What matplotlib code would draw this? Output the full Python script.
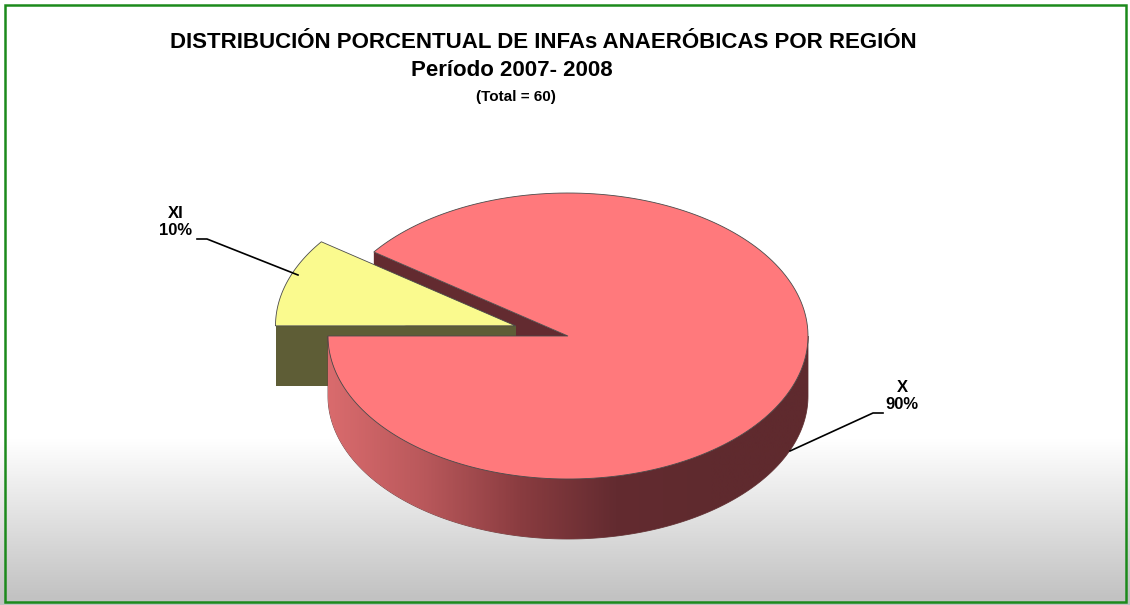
import numpy as np
import matplotlib
matplotlib.use("Agg")
import matplotlib.pyplot as plt
from matplotlib.patches import Polygon, Rectangle, PathPatch
from matplotlib.path import Path
from matplotlib.colors import LinearSegmentedColormap

# data
regions = ["X", "XI"]
percent = [90, 10]
total = 60
explode = [0.0, 0.23]

top_colors = ["#ff797c", "#fafa8e"]
cut_colors = ["#632b30", "#5e5d36"]

title = "DISTRIBUCIÓN PORCENTUAL DE INFAs ANAERÓBICAS POR REGIÓN"
subtitle = "Período 2007- 2008"

plt.rcParams["font.family"] = ["Liberation Sans", "DejaVu Sans"]

fig = plt.figure(figsize=(11.3, 6.05), dpi=100)
ax = fig.add_axes([0, 0, 1, 1])
ax.set_xlim(0, 1130)
ax.set_ylim(605, 0)
ax.axis("off")

# background: white with grey fade at the bottom
yy = np.linspace(0, 605, 200)
grad = np.repeat(np.clip((yy - 440) / 160, 0, 1)[:, None], 2, axis=1)
bg = LinearSegmentedColormap.from_list("bg", ["#ffffff", "#c2c2c2"])
ax.imshow(grad, extent=[0, 1130, 605, 0], cmap=bg, aspect="auto", zorder=0,
          interpolation="bilinear")
ax.add_patch(Rectangle((5, 5), 1121, 597, fill=False, ec="#1c8a1c", lw=1.8, zorder=10))

# 3d pie geometry (pixels)
cx, cy = 568, 336
a, b = 240, 143
depth = 60
start = 180.0


def pt(c, t, dz=0.0):
    r = np.radians(t)
    return (c[0] + a * np.cos(r), c[1] - b * np.sin(r) + dz)


def arc(c, t0, t1, dz=0.0, n=200):
    ts = np.linspace(t0, t1, n)
    return [pt(c, t, dz) for t in ts]


# X starts at 180 deg and runs through the front, XI fills the rest
fr = np.array(percent) / sum(percent)
spans = [(start, start + 360 * fr[0]), (start - 360 * fr[1], start)]
slices = []
for i in range(len(regions)):
    t0, t1 = spans[i]
    mid = np.radians((t0 + t1) / 2)
    c = (cx + explode[i] * a * np.cos(mid), cy - explode[i] * b * np.sin(mid))
    slices.append(dict(t0=t0, t1=t1, c=c))

# cut faces
for i, s in enumerate(slices):
    c = s["c"]
    for t, sign in ((s["t0"], -1), (s["t1"], 1)):
        normal = np.radians(t + sign * 90)
        if np.sin(normal) < 0:
            e = pt(c, t)
            poly = [c, e, (e[0], e[1] + depth), (c[0], c[1] + depth)]
            ax.add_patch(Polygon(poly, closed=True, fc=cut_colors[i], ec="none", zorder=2))

# outer sides (front half only)
side_cmap = LinearSegmentedColormap.from_list(
    "side", ["#d96b6d", "#b9585b", "#8a3c40", "#632b30", "#5f2a2e"])
for i, s in enumerate(slices):
    lo = max(s["t0"], 180)
    hi = min(s["t1"], 360)
    if hi <= lo:
        continue
    c = s["c"]
    verts = arc(c, lo, hi) + arc(c, hi, lo, depth)
    path = Path(verts + [verts[0]], [Path.MOVETO] + [Path.LINETO] * (len(verts) - 1) + [Path.CLOSEPOLY])
    patch = PathPatch(path, fc="none", ec="#6a4040", lw=0.6, zorder=3)
    ax.add_patch(patch)
    g = np.clip(np.linspace(0, 1, 256)[None, :] * 1.25, 0, 1)
    im = ax.imshow(g, extent=[c[0] - a, c[0] + a, c[1] + b + depth, c[1] - b],
                   cmap=side_cmap, aspect="auto", zorder=3, interpolation="bilinear")
    im.set_clip_path(patch)

# tops
for i, s in enumerate(slices):
    c = s["c"]
    verts = [c] + arc(c, s["t0"], s["t1"])
    ax.add_patch(Polygon(verts, closed=True, fc=top_colors[i], ec="#4a4a4a",
                         lw=0.6, zorder=4))

# titles
ax.text(543, 42, title, ha="center", va="center", fontsize=16, fontweight="bold")
ax.text(512, 70, subtitle, ha="center", va="center", fontsize=16, fontweight="bold")
ax.text(516, 97, "(Total = %d)" % total, ha="center", va="center", fontsize=11,
        fontweight="bold")

# labels with leader lines
lab_pos = [(902, 396), (176, 222)]
leaders = [[(883, 413), (873, 413), (790, 451)],
           [(197, 239), (207, 239), (298, 275)]]
for i in range(len(regions)):
    ax.text(lab_pos[i][0], lab_pos[i][1], "%s\n%d%%" % (regions[i], percent[i]),
            ha="center", va="center", fontsize=12, fontweight="bold", linespacing=1.2,
            zorder=6)
    xs, ys = zip(*leaders[i])
    ax.plot(xs, ys, color="black", lw=1.2, zorder=6)

fig.savefig("out.png", dpi=100)
